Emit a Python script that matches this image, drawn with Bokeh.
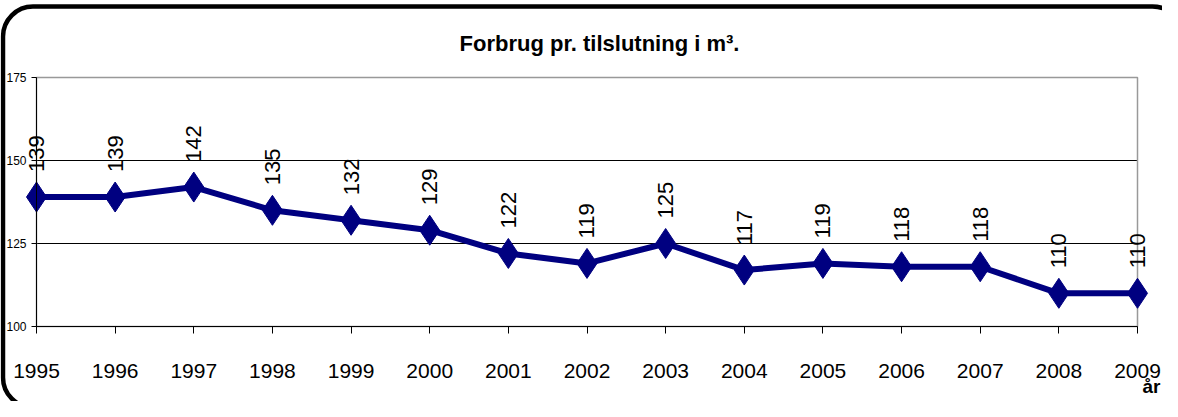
import numpy as np
from bokeh.plotting import figure
from bokeh.models import (ColumnDataSource, Range1d, FixedTicker, LabelSet, Label,
                          BoxAnnotation)
from bokeh.core.properties import value
from bokeh.embed import file_html
from bokeh.resources import INLINE

# ---- data ----
years = [1995, 1996, 1997, 1998, 1999, 2000, 2001, 2002, 2003, 2004, 2005, 2006, 2007, 2008, 2009]
values = [139, 139, 142, 135, 132, 129, 122, 119, 125, 117, 119, 118, 118, 110, 110]
y_ticks = [100, 125, 150, 175]
grid_ticks = [125, 150]
title_text = "Forbrug pr. tilslutning i m\u00b3."
x_label = "\u00e5r"

FONT = "Liberation Sans"
NAVY = "#000080"

# ---- layout (canvas pixels) ----
W, H = 1162, 401
FX0, FX1 = 36, 1137      # plot box left/right
FY0, FY1 = 77, 326       # plot box top/bottom
ymin, ymax = y_ticks[0], y_ticks[-1]
xmin, xmax = years[0], years[-1]
ppx = (FX1 - FX0) / (xmax - xmin)
ppy = (FY1 - FY0) / (ymax - ymin)

def dx(px):
    return xmin + (px - FX0) / ppx

def dy(py):
    return ymin + (FY1 - py) / ppy

p = figure(width=W, height=H, output_backend="svg", toolbar_location=None,
           x_range=Range1d(dx(0), dx(W)), y_range=Range1d(dy(H), dy(0)),
           min_border=0, min_border_left=0, min_border_right=0,
           min_border_top=0, min_border_bottom=0,
           background_fill_color="white", border_fill_color="white")
p.outline_line_color = None

# plot box (grey top/right edges)
p.add_layout(BoxAnnotation(left=xmin, right=xmax, bottom=ymin, top=ymax, level="underlay",
                           fill_color=None, fill_alpha=0, line_color="#999999",
                           line_alpha=1, line_width=1.5))

# horizontal grid lines limited to the plot box
p.xgrid.visible = False
p.ygrid.visible = False
gsrc = ColumnDataSource(dict(x0=[xmin] * len(grid_ticks), x1=[xmax] * len(grid_ticks),
                             y=grid_ticks))
p.segment(x0="x0", y0="y", x1="x1", y1="y", source=gsrc, line_color="black",
          line_width=1, level="underlay")

# axes
xa = p.xaxis[0]
xa.fixed_location = ymin
xa.bounds = (xmin, xmax)
xa.ticker = FixedTicker(ticks=years)
xa.major_label_text_font = FONT
xa.major_label_text_font_size = "21px"
xa.major_label_text_color = "black"
xa.major_label_standoff = 30
xa.major_tick_out = 7
xa.major_tick_in = 0
xa.minor_tick_line_color = None
xa.axis_line_color = "black"
xa.major_tick_line_color = "black"

ya = p.yaxis[0]
ya.fixed_location = xmin
ya.bounds = (ymin, ymax)
ya.ticker = FixedTicker(ticks=y_ticks)
ya.major_label_text_font = FONT
ya.major_label_text_font_size = "12px"
ya.major_label_text_color = "black"
ya.major_label_standoff = 5
ya.major_tick_out = 5
ya.major_tick_in = 0
ya.minor_tick_line_color = None
ya.axis_line_color = "black"
ya.major_tick_line_color = "black"

src = ColumnDataSource(dict(x=years, y=values, lab=[str(v) for v in values]))
p.line("x", "y", source=src, line_color=NAVY, line_width=6)
p.scatter("x", "y", source=src, marker="diamond", size=30,
          fill_color=NAVY, line_color=NAVY)

labels = LabelSet(x="x", y="y", text="lab", source=src, angle=np.pi / 2,
                  text_align="left", text_baseline="middle", y_offset=25,
                  text_font=value(FONT), text_font_size=value("22px"), text_color="black")
p.add_layout(labels)

# title
p.add_layout(Label(x=dx(599), y=dy(43), text=title_text,
                   text_font=FONT, text_font_style="bold", text_font_size="22px",
                   text_align="center", text_baseline="middle", text_color="black"))
# x axis label
p.add_layout(Label(x=dx(1142), y=dy(386), text=x_label,
                   text_font=FONT, text_font_style="bold", text_font_size="19px",
                   text_align="left", text_baseline="middle", text_color="black"))

# rounded chart border
p.add_layout(BoxAnnotation(left=dx(2.5), right=dx(1182), top=dy(6), bottom=dy(407),
                           border_radius=30, fill_color=None, fill_alpha=0,
                           line_color="black", line_alpha=1, line_width=4.5))

open("out.html", "w").write(file_html(p, INLINE))
